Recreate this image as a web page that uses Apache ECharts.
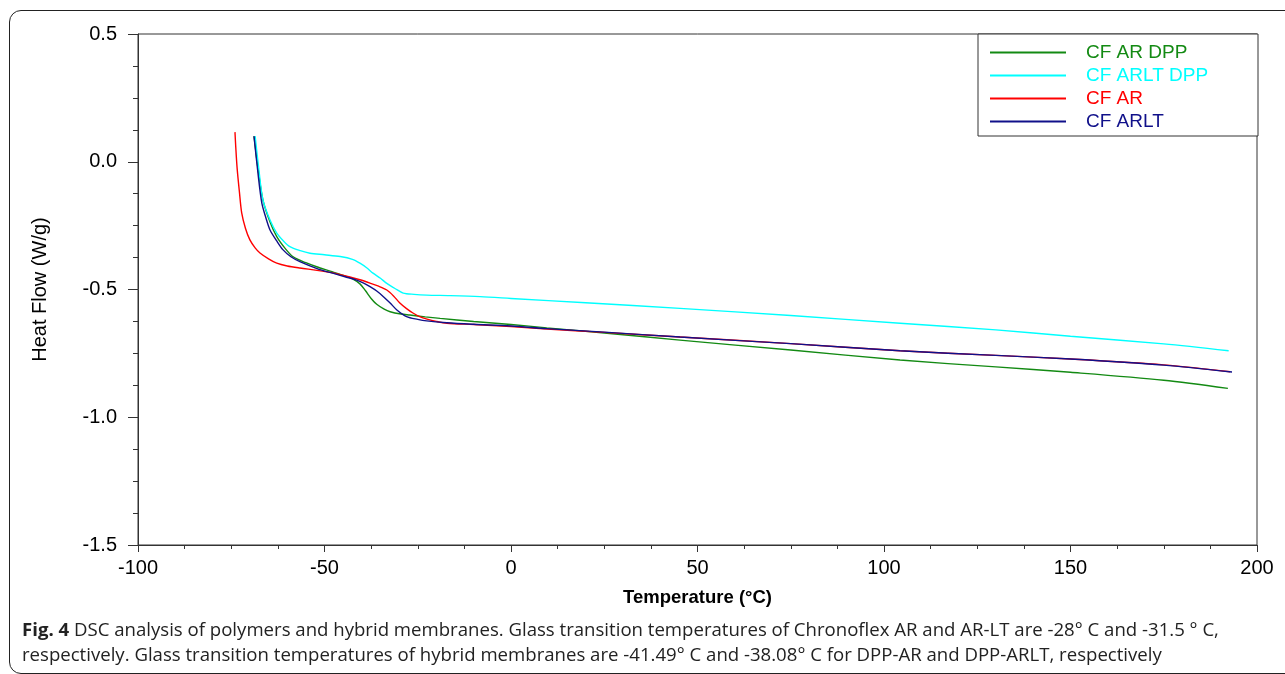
<!DOCTYPE html>
<html>
<head>
<meta charset="utf-8">
<script src="https://cdn.jsdelivr.net/npm/echarts@6/dist/echarts.min.js"></script>
<style>
  html, body { margin: 0; padding: 0; background: #fff; }
  #wrap { position: relative; width: 1285px; height: 674px; overflow: hidden; }
  #frame {
    position: absolute; left: 9px; top: 10px; width: 1320px; height: 662px;
    border: 1.5px solid #222; border-radius: 12px;
  }
  #chart { position: absolute; left: 0; top: 0; width: 1285px; height: 674px; }
  #caption {
    position: absolute; left: 22px; top: 616px;
    font-family: "Open Sans", sans-serif; font-size: 18.6px; line-height: 25px;
    color: #222; white-space: nowrap;
  }
  #caption b { font-weight: 700; }
</style>
</head>
<body>
<div id="wrap">
  <div id="frame"></div>
  <div id="chart"></div>
  <div id="caption"><b>Fig. 4</b> DSC analysis of polymers and hybrid membranes. Glass transition temperatures of Chronoflex AR and AR-LT are -28° C and -31.5 ° C,<br>respectively. Glass transition temperatures of hybrid membranes are -41.49° C and -38.08° C for DPP-AR and DPP-ARLT, respectively</div>
</div>
<script>
// 数据
var seriesNames = ['CF AR DPP', 'CF ARLT DPP', 'CF AR', 'CF ARLT'];
var seriesColors = ['#138a13', '#00ffff', '#ff0000', '#10108a'];

var arDppT = [-68.9, -67.8, -66.5, -64.6, -62.8, -60.5, -58.4, -55, -52.1, -48, -45, -42.5, -40.5, -39, -37.5, -36, -34, -32.4, -29.5, -27.1, -23, -19, -10, 0, 9.6, 25, 45.3, 75, 104.3, 130, 150, 175, 192.2];
var arDppV = [0.10, -0.03, -0.15, -0.236, -0.293, -0.34, -0.372, -0.395, -0.411, -0.43, -0.445, -0.458, -0.478, -0.505, -0.535, -0.558, -0.577, -0.587, -0.596, -0.6, -0.607, -0.613, -0.625, -0.637, -0.65, -0.67, -0.698, -0.737, -0.776, -0.803, -0.824, -0.855, -0.887];

var arltDppT = [-68.6, -67.6, -66.5, -64.6, -62.8, -61, -59.3, -56.5, -53.9, -50, -45.8, -42.5, -40.5, -38.7, -37, -35, -33.3, -31, -28.9, -26, -22.6, -16.4, -8.3, 0, 20, 45.3, 75, 104.3, 130, 150, 175, 192.4];
var arltDppV = [0.10, -0.03, -0.15, -0.228, -0.279, -0.31, -0.332, -0.348, -0.358, -0.364, -0.371, -0.382, -0.397, -0.415, -0.436, -0.456, -0.476, -0.497, -0.514, -0.519, -0.522, -0.524, -0.528, -0.535, -0.552, -0.574, -0.602, -0.632, -0.658, -0.683, -0.713, -0.74];

var arT = [-74.0, -73.8, -73.4, -72.8, -72.2, -71.2, -70, -68.6, -67.3, -65, -62.8, -60, -56.6, -52, -47.7, -45.5, -43.2, -40.5, -37.8, -35.5, -33.3, -31.5, -29.8, -28, -26.3, -24.5, -22.5, -20, -17.2, -10, 0, 9.6, 25, 45.3, 75, 104.3, 130, 150, 175, 192.8];
var arV = [0.116, 0.06, -0.03, -0.12, -0.2, -0.26, -0.306, -0.337, -0.357, -0.38, -0.397, -0.408, -0.416, -0.425, -0.435, -0.443, -0.451, -0.462, -0.475, -0.487, -0.502, -0.525, -0.553, -0.575, -0.592, -0.606, -0.616, -0.625, -0.632, -0.637, -0.645, -0.655, -0.668, -0.686, -0.712, -0.74, -0.758, -0.772, -0.795, -0.822];

var arltT = [-68.9, -67.8, -66.8, -65.7, -64.6, -62.8, -61.1, -59, -56.6, -52, -47.6, -44.5, -41.4, -39.5, -37.8, -36, -34.2, -32.4, -30.6, -28, -25, -22.6, -17.2, -10, 0, 9.6, 25, 45.3, 75, 104.3, 130, 150, 175, 193.3];
var arltV = [0.10, -0.05, -0.162, -0.22, -0.267, -0.31, -0.345, -0.372, -0.391, -0.418, -0.437, -0.45, -0.463, -0.475, -0.489, -0.506, -0.528, -0.553, -0.58, -0.606, -0.617, -0.623, -0.63, -0.636, -0.643, -0.653, -0.667, -0.686, -0.712, -0.74, -0.758, -0.772, -0.796, -0.823];

var allT = [arDppT, arltDppT, arT, arltT];
var allV = [arDppV, arltDppV, arV, arltV];

function zip(t, v) {
  var out = [];
  for (var i = 0; i < t.length; i++) out.push([t[i], v[i]]);
  return out;
}

var font = '"Liberation Sans", Arial, sans-serif';

var series = [];
var legendData = [];
for (var i = 0; i < seriesNames.length; i++) {
  series.push({
    name: seriesNames[i],
    type: 'line',
    data: zip(allT[i], allV[i]),
    smooth: 0.3,
    showSymbol: false,
    symbol: 'none',
    color: seriesColors[i],
    lineStyle: { width: 1.4, color: seriesColors[i] },
    z: 2 + i
  });
  legendData.push({
    name: seriesNames[i],
    textStyle: { color: seriesColors[i] }
  });
}

var myChart = echarts.init(document.getElementById('chart'));
myChart.setOption({
  animation: false,
  grid: {
    left: 138, top: 34, right: 28, bottom: 129,
    show: true, borderColor: '#333', borderWidth: 1, backgroundColor: 'transparent'
  },
  graphic: [{
    type: 'rect',
    shape: { x: 978, y: 34, width: 280, height: 102 },
    style: { fill: '#fff', stroke: '#333', lineWidth: 1 },
    z: 10
  }],
  legend: {
    orient: 'vertical',
    left: 990, top: 43,
    itemWidth: 76, itemHeight: 14, itemGap: 4,
    padding: 0,
    icon: 'path://M0,0 L76,0 L76,2 L0,2 Z',
    z: 20,
    textStyle: { fontFamily: font, fontSize: 19, padding: [0, 0, 0, 15] },
    data: legendData
  },
  xAxis: {
    type: 'value',
    min: -100, max: 200, interval: 50,
    name: 'Temperature (°C)',
    nameLocation: 'middle', nameGap: 43,
    nameTextStyle: { fontFamily: font, fontSize: 18.5, fontWeight: 'bold', color: '#000' },
    axisLine: { show: true, onZero: false, lineStyle: { color: '#333' } },
    axisTick: { show: true, length: 7, lineStyle: { color: '#333' } },
    minorTick: { show: true, splitNumber: 4, length: 4, lineStyle: { color: '#333' } },
    splitLine: { show: false },
    axisLabel: { fontFamily: font, fontSize: 20, color: '#000', margin: 13 }
  },
  yAxis: {
    type: 'value',
    min: -1.5, max: 0.5, interval: 0.5,
    name: 'Heat Flow (W/g)',
    nameLocation: 'middle', nameGap: 88,
    nameTextStyle: { fontFamily: font, fontSize: 20, color: '#000' },
    axisLine: { show: true, onZero: false, lineStyle: { color: '#333' } },
    axisTick: { show: true, length: 10, lineStyle: { color: '#333' } },
    minorTick: { show: true, splitNumber: 4, length: 5, lineStyle: { color: '#333' } },
    splitLine: { show: false },
    axisLabel: {
      fontFamily: font, fontSize: 20, color: '#000', margin: 21,
      formatter: function(v) { return v.toFixed(1); }
    }
  },
  series: series
});
</script>
</body>
</html>
